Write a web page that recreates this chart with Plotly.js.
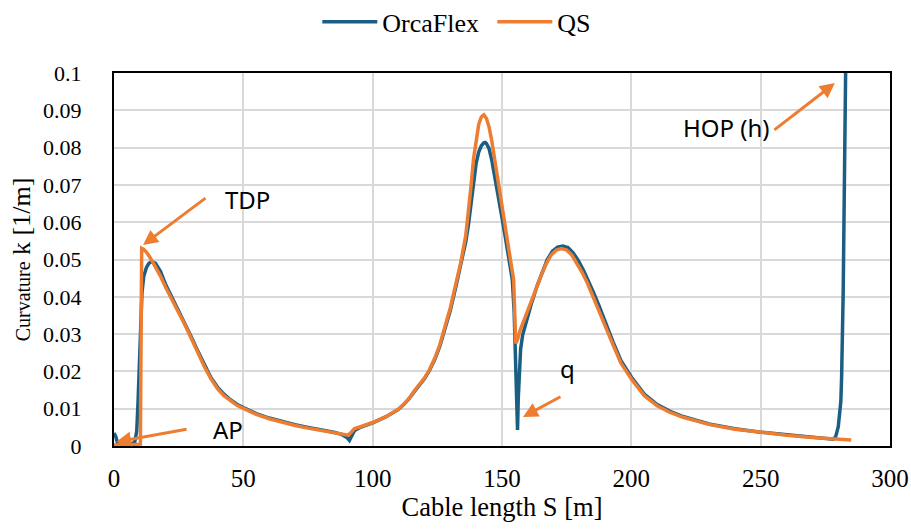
<!DOCTYPE html>
<html>
<head>
<meta charset="utf-8">
<script src="https://cdn.plot.ly/plotly-3.0.1.min.js"></script>
<style>html,body{margin:0;padding:0;background:#fff;}#chart{width:911px;height:532px;}</style>
</head>
<body>
<div id="chart"></div>
<script>
// OrcaFlex curvature along cable length
const orcaS = [0, 0.7, 1.5, 3, 5, 7, 8, 8.8, 9.3, 9.8, 10.3, 10.8, 11.5, 12.5, 13.5, 14.6, 16, 18, 20, 22.5, 25, 27.5, 30, 32.5, 35, 37.5, 40, 42.5, 45, 47.5, 50, 55, 60, 65, 70, 75, 80, 85, 88, 90, 91, 92, 93, 95, 100, 105, 110, 112, 114, 116, 118, 120, 122, 124, 126, 128, 130, 132, 134, 136, 137, 138, 139, 140, 141, 142, 143, 143.5, 144, 145, 146, 147, 148, 149, 150, 151, 152, 153, 154, 154.7, 155.2, 155.6, 156, 156.3, 156.7, 157.2, 158, 159.5, 161.5, 163.5, 165.5, 167.5, 169.5, 171.5, 173.5, 175.5, 177.5, 179.5, 181.5, 183.5, 185.5, 187.5, 190, 193, 196, 200, 205, 210, 215, 220, 230, 240, 250, 260, 270, 276, 278, 279, 280, 281, 281.3, 281.9, 282.6, 282.8, 283];
const orcaK = [0.0035, 0.0025, 0.0005, 0.0005, 0.0006, 0.0007, 0.001, 0.004, 0.012, 0.024, 0.034, 0.041, 0.0455, 0.0478, 0.049, 0.0494, 0.049, 0.0468, 0.0432, 0.0397, 0.0366, 0.0329, 0.0291, 0.0253, 0.0216, 0.0183, 0.0158, 0.0139, 0.0124, 0.0112, 0.0103, 0.0087, 0.0075, 0.0065, 0.0057, 0.005, 0.0044, 0.0037, 0.0031, 0.0023, 0.0015, 0.0028, 0.0042, 0.0049, 0.0062, 0.0078, 0.0098, 0.0111, 0.0126, 0.0145, 0.0163, 0.018, 0.0203, 0.0232, 0.0268, 0.0315, 0.0363, 0.0422, 0.048, 0.0548, 0.0592, 0.065, 0.0715, 0.0758, 0.0788, 0.0805, 0.0813, 0.0814, 0.0811, 0.0797, 0.0768, 0.0732, 0.0692, 0.0652, 0.0612, 0.0572, 0.0528, 0.0487, 0.0445, 0.036, 0.026, 0.015, 0.0043, 0.013, 0.021, 0.026, 0.0298, 0.0338, 0.0385, 0.0428, 0.0466, 0.05, 0.0522, 0.0533, 0.0536, 0.0532, 0.0518, 0.0497, 0.0471, 0.0442, 0.041, 0.0376, 0.033, 0.0278, 0.0229, 0.0185, 0.0139, 0.0111, 0.0093, 0.0079, 0.0059, 0.0046, 0.0037, 0.003, 0.0024, 0.002, 0.0018, 0.0025, 0.0052, 0.012, 0.0186, 0.041, 0.0767, 0.1, 0.11];

// Quasi-static (QS) curvature along cable length
const qsS = [0, 3, 6, 9, 10.2, 10.7, 11.5, 12.5, 14, 16, 18, 20, 22.5, 25, 27.5, 30, 32.5, 35, 37.5, 40, 42.5, 45, 47.5, 50, 55, 60, 65, 70, 75, 80, 85, 88, 90.5, 91.5, 93, 95, 100, 105, 110, 112, 114, 116, 118, 120, 122, 124, 126, 128, 130, 132, 134, 136, 137, 138, 139, 140, 141, 142, 143, 144, 145, 146, 147, 148, 149, 150, 151, 152, 153, 154, 154.5, 155.3, 156, 157, 159, 161, 163, 165, 167, 169, 171, 173, 175, 177, 179, 181, 183, 185, 187, 190, 193, 196, 200, 205, 210, 215, 220, 230, 240, 250, 260, 270, 278, 285];
const qsK = [0.0003, 0.0003, 0.0003, 0.0003, 0.0005, 0.053, 0.0527, 0.052, 0.0505, 0.048, 0.0455, 0.0425, 0.0391, 0.0361, 0.0324, 0.0287, 0.0249, 0.0212, 0.018, 0.0154, 0.0135, 0.0121, 0.0109, 0.0101, 0.0085, 0.0073, 0.0063, 0.0055, 0.0048, 0.0042, 0.0036, 0.0032, 0.0029, 0.0035, 0.0047, 0.0051, 0.0063, 0.0078, 0.0099, 0.0112, 0.0127, 0.0147, 0.0165, 0.0182, 0.0205, 0.0235, 0.0272, 0.032, 0.037, 0.043, 0.049, 0.0565, 0.0625, 0.0695, 0.077, 0.0825, 0.0862, 0.0882, 0.0888, 0.0878, 0.0855, 0.082, 0.0775, 0.0728, 0.068, 0.0635, 0.059, 0.0545, 0.05, 0.046, 0.0445, 0.0275, 0.0285, 0.031, 0.0345, 0.0378, 0.0418, 0.0455, 0.0487, 0.0512, 0.0525, 0.0529, 0.0525, 0.0512, 0.049, 0.0465, 0.0437, 0.0405, 0.037, 0.032, 0.027, 0.0222, 0.018, 0.0135, 0.0108, 0.009, 0.0077, 0.0058, 0.0045, 0.0036, 0.0029, 0.0023, 0.0019, 0.0016];

const xTicks = [0, 50, 100, 150, 200, 250, 300];
const yTicks = [0, 0.01, 0.02, 0.03, 0.04, 0.05, 0.06, 0.07, 0.08, 0.09, 0.1];
const yTickText = ["0", "0.01", "0.02", "0.03", "0.04", "0.05", "0.06", "0.07", "0.08", "0.09", "0.1"];

const ORCA = "#1b5e84";
const QS = "#ED7D31";
const serif = "Liberation Serif";
const sans = "Noto Sans";

const traces = [
  {x: orcaS, y: orcaK, name: "OrcaFlex", mode: "lines", line: {color: ORCA, width: 3.5}},
  {x: qsS, y: qsK, name: "QS", mode: "lines", line: {color: QS, width: 3.5}}
];

function arrow(x, y, ax, ay) {
  return {x: x, y: y, xref: "x", yref: "y", ax: ax, ay: ay, axref: "pixel", ayref: "pixel",
    text: "", showarrow: true, arrowhead: 2, arrowsize: 1, arrowwidth: 3, arrowcolor: QS, standoff: 0};
}
function label(x, y, t) {
  return {x: x, y: y, xref: "x", yref: "y", text: t, showarrow: false,
    font: {family: sans, size: 24, color: "#000"}, xanchor: "center", yanchor: "middle"};
}

const layout = {
  width: 911, height: 532,
  font: {family: serif, color: "#000"},
  paper_bgcolor: "#fff", plot_bgcolor: "#fff",
  margin: {l: 114, r: 21, t: 73, b: 86, autoexpand: false},
  showlegend: true,
  legend: {orientation: "h", x: 0.262, xanchor: "left", y: 1.137, yanchor: "middle",
    font: {family: serif, size: 26, color: "#000"}, itemwidth: 55, entrywidth: 105, entrywidthmode: "pixels"},
  xaxis: {range: [0, 300], tickvals: xTicks, showgrid: true, gridcolor: "#d9d9d9", gridwidth: 2,
    showline: true, linecolor: "#000", linewidth: 2, mirror: true, zeroline: false, ticks: "",
    ticklabelstandoff: 9, automargin: false,
    tickfont: {family: serif, size: 25, color: "#000"},
    title: {text: "Cable length S [m]", font: {family: serif, size: 26.5, color: "#000"}, standoff: 6}},
  yaxis: {range: [0, 0.1], tickvals: yTicks, ticktext: yTickText, showgrid: true, gridcolor: "#d9d9d9", gridwidth: 2,
    showline: true, linecolor: "#000", linewidth: 2, mirror: true, zeroline: false, ticks: "",
    ticklabelstandoff: 26, automargin: false,
    tickfont: {family: serif, size: 22, color: "#000"},
    title: {text: '<span style="font-size:20px">Curvature</span> k [1/m]', font: {family: serif, size: 26, color: "#000"}, standoff: 5}},
  annotations: [
    arrow(11.2, 0.0539, 64, -48),
    arrow(0.8, 0.0011, 72, -13),
    arrow(158.1, 0.0078, 39, -21),
    arrow(278.7, 0.0973, -62, 48),
    label(51.8, 0.0662, "TDP"),
    label(44.1, 0.0043, "AP"),
    label(175.5, 0.0209, "q"),
    label(236.8, 0.0853, "HOP (h)")
  ]
};

Plotly.newPlot("chart", traces, layout, {displayModeBar: false, staticPlot: true});
</script>
</body>
</html>
